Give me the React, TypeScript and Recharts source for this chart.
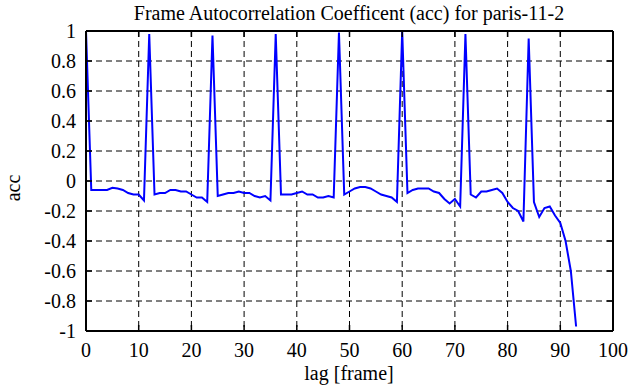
import React from 'react';
import { LineChart, Line, XAxis, YAxis, CartesianGrid } from 'recharts';

const lags: number[] = [
  0, 1, 2, 3, 4, 5, 6, 7, 8, 9, 10, 11, 12, 13, 14, 15, 16, 17, 18, 19,
  20, 21, 22, 23, 24, 25, 26, 27, 28, 29, 30, 31, 32, 33, 34, 35, 36, 37, 38, 39,
  40, 41, 42, 43, 44, 45, 46, 47, 48, 49, 50, 51, 52, 53, 54, 55, 56, 57, 58, 59,
  60, 61, 62, 63, 64, 65, 66, 67, 68, 69, 70, 71, 72, 73, 74, 75, 76, 77, 78, 79,
  80, 81, 82, 83, 84, 85, 86, 87, 88, 89, 90, 91, 92, 93,
];

const accValues: number[] = [
  1.0, -0.06, -0.06, -0.06, -0.06, -0.045, -0.05, -0.06, -0.08, -0.09,
  -0.09, -0.13, 0.98, -0.09, -0.08, -0.08, -0.06, -0.06, -0.07, -0.07,
  -0.09, -0.11, -0.11, -0.14, 0.97, -0.1, -0.09, -0.08, -0.08, -0.07,
  -0.08, -0.08, -0.1, -0.11, -0.1, -0.13, 0.98, -0.09, -0.09, -0.09,
  -0.08, -0.07, -0.09, -0.09, -0.11, -0.11, -0.1, -0.11, 0.99, -0.09,
  -0.07, -0.05, -0.04, -0.04, -0.05, -0.07, -0.09, -0.1, -0.11, -0.14,
  1.0, -0.08, -0.06, -0.05, -0.05, -0.05, -0.07, -0.08, -0.12, -0.15,
  -0.12, -0.17, 0.98, -0.09, -0.11, -0.07, -0.07, -0.06, -0.05, -0.08,
  -0.14, -0.18, -0.2, -0.27, 0.95, -0.14, -0.24, -0.18, -0.17, -0.23,
  -0.28, -0.4, -0.6, -0.97,
];

const xTicks: number[] = [0, 10, 20, 30, 40, 50, 60, 70, 80, 90, 100];
const yTicks: number[] = [-1, -0.8, -0.6, -0.4, -0.2, 0, 0.2, 0.4, 0.6, 0.8, 1];

const titleText = 'Frame Autocorrelation Coefficent (acc) for paris-11-2';
const xLabel = 'lag [frame]';
const yLabel = 'acc';

const data = lags.map((lag, i) => ({ lag, acc: accValues[i] }));

const FONT = '"Liberation Serif", "Times New Roman", serif';

const fmt = (v: number) => {
  const r = Math.round(v * 10) / 10;
  return r === 0 ? '0' : String(r);
};

const EmptyTick = () => <g />;

const XTick = (props: any) => {
  const { x, y, payload } = props;
  return (
    <text x={x} y={y} dy="0.71em" textAnchor="middle" fontFamily={FONT} fontSize={20} fill="#000">
      {fmt(payload.value)}
    </text>
  );
};

const YTick = (props: any) => {
  const { x, y, payload } = props;
  return (
    <text x={x} y={y} dy="0.355em" textAnchor="end" fontFamily={FONT} fontSize={20} fill="#000">
      {fmt(payload.value)}
    </text>
  );
};

export default function App() {
  return (
    <div style={{ position: 'fixed', left: 0, top: 0, width: 629, height: 387, background: '#fff' }}>
      <LineChart
        width={629}
        height={387}
        data={data}
        margin={{ top: 0, right: 0, bottom: 0, left: 0 }}
      >
        <CartesianGrid
          stroke="#000"
          strokeDasharray="6 4"
          strokeWidth={1}
          horizontalValues={yTicks}
          verticalValues={xTicks}
          xAxisId="bottom"
          yAxisId="left"
        />
        <XAxis
          xAxisId="bottom"
          dataKey="lag"
          type="number"
          domain={[0, 100]}
          ticks={xTicks}
          allowDataOverflow
          height={56}
          orientation="bottom"
          axisLine={{ stroke: '#000', strokeWidth: 2 }}
          tickLine={{ stroke: '#000', strokeWidth: 1.5 }}
          tickSize={-6}
          tickMargin={18}
          tick={<XTick />}
          interval={0}
        />
        <XAxis
          xAxisId="top"
          dataKey="lag"
          type="number"
          domain={[0, 100]}
          ticks={xTicks}
          allowDataOverflow
          height={31}
          orientation="top"
          axisLine={{ stroke: '#000', strokeWidth: 2 }}
          tickLine={{ stroke: '#000', strokeWidth: 1.5 }}
          tickSize={-6}
          tick={<EmptyTick />}
          interval={0}
        />
        <YAxis
          yAxisId="left"
          type="number"
          domain={[-1, 1]}
          ticks={yTicks}
          allowDataOverflow
          width={86}
          orientation="left"
          axisLine={{ stroke: '#000', strokeWidth: 2 }}
          tickLine={{ stroke: '#000', strokeWidth: 1.5 }}
          tickSize={-6}
          tickMargin={16}
          tick={<YTick />}
          interval={0}
        />
        <YAxis
          yAxisId="right"
          type="number"
          domain={[-1, 1]}
          ticks={yTicks}
          allowDataOverflow
          width={16}
          orientation="right"
          axisLine={{ stroke: '#000', strokeWidth: 2 }}
          tickLine={{ stroke: '#000', strokeWidth: 1.5 }}
          tickSize={-6}
          tick={<EmptyTick />}
          interval={0}
        />
        <Line
          xAxisId="bottom"
          yAxisId="left"
          type="linear"
          dataKey="acc"
          stroke="#0000ff"
          strokeWidth={2}
          dot={false}
          isAnimationActive={false}
        />
      </LineChart>
      <svg
        width={629}
        height={387}
        style={{ position: 'absolute', left: 0, top: 0, pointerEvents: 'none' }}
      >
        <text x={349} y={20} textAnchor="middle" fontFamily={FONT} fontSize={20} fill="#000">
          {titleText}
        </text>
        <text x={349} y={380} textAnchor="middle" fontFamily={FONT} fontSize={20} fill="#000">
          {xLabel}
        </text>
        <text
          x={20}
          y={188}
          textAnchor="middle"
          fontFamily={FONT}
          fontSize={20}
          fill="#000"
          transform="rotate(-90 20 188)"
        >
          {yLabel}
        </text>
      </svg>
    </div>
  );
}
